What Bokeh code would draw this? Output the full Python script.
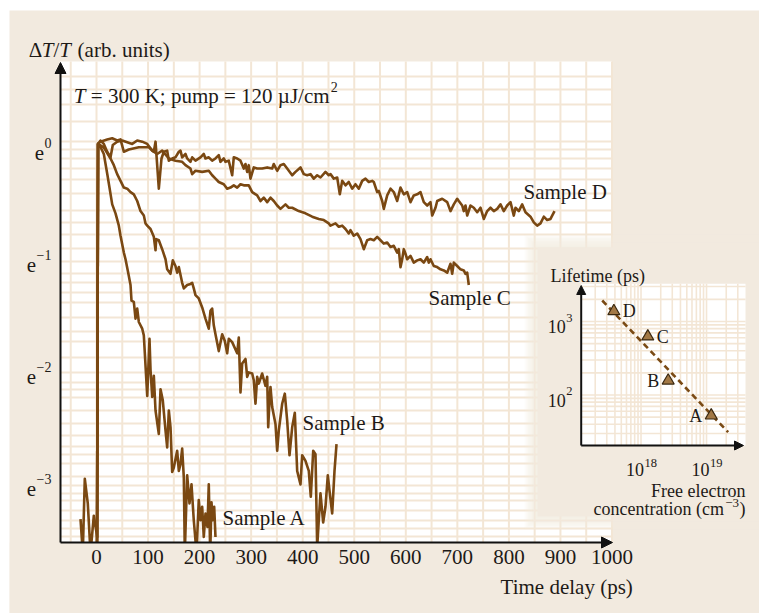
import numpy as np
from bokeh.plotting import figure
from bokeh.models import (Range1d, Label, Arrow, NormalHead, Spacer, ColumnDataSource)
from bokeh.layouts import column, row
from bokeh.embed import file_html
from bokeh.resources import INLINE
from bokeh.core.properties import value

# ---------------- data (ln of dT/T vs time delay in ps) ----------------
time_A = [-31.0, -26.6, -22.7, -16.9, -11.6, -5.2, 1.4, 2.9, 7.0, 14.2, 21.3, 30.5, 36.9, 43.3, 46.6,
          53.0, 56.3, 61.5, 66.0, 67.9, 72.4, 75.7, 79.0, 82.1, 88.7, 91.8, 98.4, 102.8, 104.8, 108.1,
          111.2, 114.5, 120.9, 124.2, 128.6, 133.9, 137.1, 140.3, 143.6, 146.8, 150.0, 156.5, 159.7,
          162.9, 166.2, 169.4, 171.3, 175.9, 180.4, 184.3, 188.7, 194.0, 198.4, 201.7, 205.0, 208.1,
          211.4, 215.3, 217.8, 220.6, 223.1, 225.6, 228.3, 230.8]
ln_A = [-3.30, -3.60, -2.94, -3.16, -3.60, -3.27, -3.46, 0.05, 0.03, -0.04, -0.23, -0.49, -0.57, -0.68,
        -0.77, -0.92, -0.98, -1.10, -1.21, -1.35, -1.36, -1.51, -1.42, -1.54, -1.60, -1.66, -2.20, -1.69,
        -1.97, -2.21, -2.02, -2.33, -2.54, -2.14, -2.24, -2.51, -2.66, -2.33, -2.48, -2.88, -2.84, -2.69,
        -2.87, -2.81, -2.67, -2.93, -3.60, -2.91, -3.16, -2.99, -3.31, -3.60, -3.13, -3.31, -3.19, -3.46,
        -3.25, -3.37, -2.99, -3.60, -3.15, -3.31, -3.19, -3.46]

time_B = [1.0, 3.0, 14.0, 27.2, 33.6, 40.1, 46.6, 53.0, 59.6, 66.0, 72.4, 79.0, 85.4, 91.8, 95.1, 98.4,
          104.8, 111.2, 114.5, 115.8, 120.9, 127.4, 133.9, 137.1, 143.5, 148.0, 153.2, 156.5, 159.7,
          166.2, 169.4, 175.9, 182.3, 185.6, 188.7, 192.0, 198.4, 205.0, 211.4, 217.8, 221.1, 224.4,
          227.5, 230.8, 237.2, 243.8, 248.9, 253.5, 256.6, 263.2, 272.9, 276.0, 279.3, 282.6, 289.0,
          292.3, 295.4, 302.0, 305.1, 308.4, 311.7, 314.8, 321.4, 327.8, 331.1, 333.1, 335.6, 337.5,
          340.8, 347.2, 350.5, 353.6, 360.2, 365.3, 369.9, 374.4, 379.6, 384.7, 389.3, 395.7, 399.0,
          405.4, 411.8, 415.7, 420.4, 424.8, 428.1, 431.2, 434.5, 439.7, 444.2, 448.7, 452.6, 457.2,
          461.7, 465.6]
ln_B = [-3.60, 0.05, 0.02, -0.08, -0.14, -0.22, -0.28, -0.34, -0.35, -0.38, -0.40, -0.46, -0.55, -0.59,
        -0.66, -0.68, -0.71, -0.78, -0.90, -0.80, -0.81, -0.89, -0.98, -1.07, -1.11, -0.99, -1.04, -1.10,
        -1.05, -1.19, -1.24, -1.21, -1.20, -1.19, -1.24, -1.30, -1.33, -1.41, -1.51, -1.60, -1.44, -1.42,
        -1.57, -1.65, -1.80, -1.65, -1.71, -1.82, -1.69, -1.72, -1.82, -1.68, -2.17, -1.91, -1.87, -2.03,
        -1.99, -2.00, -2.06, -2.27, -2.03, -2.09, -2.00, -2.11, -2.03, -2.48, -2.24, -2.12, -2.30, -2.45,
        -2.69, -2.51, -2.27, -2.18, -2.42, -2.73, -2.48, -2.35, -2.87, -2.99, -2.73, -2.78, -2.87, -3.10,
        -2.69, -2.72, -3.55, -3.31, -3.07, -3.33, -3.19, -2.91, -3.07, -3.25, -2.87, -2.63]

time_C = [1.0, 3.0, 7.8, 14.2, 20.7, 27.2, 31.6, 40.1, 49.9, 69.3, 79.0, 88.7, 98.4, 108.0, 117.7,
          127.4, 140.3, 153.2, 166.2, 172.6, 182.3, 185.6, 192.0, 205.0, 217.8, 224.4, 230.8, 237.2,
          246.9, 253.5, 259.9, 266.3, 272.9, 279.3, 285.7, 295.4, 302.0, 311.7, 318.1, 324.5, 331.1,
          337.5, 343.9, 350.5, 356.9, 366.6, 373.0, 379.6, 392.4, 405.4, 418.4, 431.2, 440.9, 450.6,
          453.9, 463.6, 470.0, 476.6, 483.0, 489.4, 492.7, 499.1, 505.7, 512.1, 518.5, 525.1, 531.5,
          537.9, 544.5, 550.9, 557.3, 563.9, 570.3, 576.7, 583.3, 586.4, 589.7, 593.0, 596.1, 599.4,
          602.7, 609.1, 615.5, 622.1, 628.5, 634.9, 641.5, 644.6, 647.9, 654.3, 660.9, 667.3, 673.7,
          680.3, 686.7, 690.0, 693.1, 699.7, 706.1, 712.5, 715.8, 719.1, 722.2]
ln_C = [-3.60, 0.05, 0.08, 0.05, -0.02, -0.07, 0.04, 0.07, 0.08, 0.05, 0.08, 0.07, 0.05, -0.01, -0.04,
        -0.01, -0.08, -0.10, -0.11, -0.14, -0.17, -0.22, -0.19, -0.20, -0.19, -0.23, -0.26, -0.29, -0.31,
        -0.35, -0.34, -0.32, -0.34, -0.31, -0.32, -0.32, -0.38, -0.41, -0.46, -0.43, -0.47, -0.43, -0.46,
        -0.50, -0.53, -0.49, -0.52, -0.52, -0.55, -0.57, -0.60, -0.62, -0.63, -0.66, -0.68, -0.66, -0.69,
        -0.68, -0.71, -0.75, -0.72, -0.77, -0.75, -0.80, -0.89, -0.81, -0.80, -0.81, -0.78, -0.81, -0.84,
        -0.83, -0.87, -0.86, -0.92, -0.89, -1.05, -0.98, -0.89, -0.93, -0.98, -0.95, -1.01, -0.99, -0.98,
        -1.01, -0.96, -1.01, -0.98, -1.04, -1.05, -1.07, -1.08, -1.10, -1.02, -1.11, -1.01, -1.04, -1.07,
        -1.08, -1.11, -1.10, -1.21]

time_D = [1.0, 3.0, 7.8, 20.7, 30.4, 40.1, 46.6, 53.0, 62.7, 82.1, 101.5, 111.2, 114.5, 120.9, 126.1,
          130.6, 137.1, 140.3, 146.8, 153.2, 159.7, 162.9, 166.2, 172.6, 175.9, 182.3, 185.6, 192.0,
          201.7, 208.1, 211.4, 217.8, 224.4, 230.8, 237.2, 240.5, 246.9, 250.2, 256.6, 263.2, 266.3,
          272.9, 279.3, 285.7, 289.0, 292.3, 295.4, 298.7, 305.1, 311.7, 321.4, 331.1, 340.8, 343.9,
          350.5, 356.9, 363.3, 369.9, 379.6, 386.0, 395.7, 402.1, 408.7, 415.1, 421.5, 428.1, 434.5,
          444.2, 450.6,
          453.9, 460.3, 466.9, 472.0, 476.6, 483.0, 489.4, 496.0, 502.4, 508.8, 515.4, 521.8, 528.2,
          534.8, 537.9, 544.5, 547.6, 554.2, 557.3, 563.9, 570.3, 576.7, 583.3, 589.7, 596.1, 602.7,
          609.1, 615.5, 622.1, 628.5, 634.9, 641.5, 647.9, 651.2, 657.6, 660.9, 670.6, 680.3, 686.7,
          693.1, 699.7, 702.8, 709.4, 712.5, 715.8, 719.1, 725.5, 731.9, 738.5, 744.9, 751.3, 757.9,
          764.3, 770.7, 777.3, 783.7, 790.1, 796.7, 803.1, 809.5, 812.8, 819.2, 825.8, 832.2, 841.9,
          848.3, 854.9, 861.3, 867.7, 874.3, 880.7, 888.5]
ln_D = [-3.60, 0.05, 0.07, 0.09, 0.10, 0.08, 0.09, -0.02, 0.00, 0.02, 0.02, -0.02, 0.07, -0.35, -0.08,
        -0.02, -0.01, -0.10, -0.08, -0.07, -0.02, -0.01, -0.07, -0.04, -0.08, -0.11, -0.07, -0.10, -0.07,
        -0.04, -0.08, -0.07, -0.10, -0.08, -0.05, -0.11, -0.08, -0.11, -0.10, -0.23, -0.07, -0.08, -0.10,
        -0.17, -0.13, -0.20, -0.14, -0.26, -0.16, -0.17, -0.17, -0.16, -0.17, -0.13, -0.19, -0.14, -0.13,
        -0.17, -0.23, -0.20, -0.16, -0.22, -0.23, -0.22, -0.26, -0.23, -0.25, -0.20, -0.23,
        -0.22, -0.26, -0.25, -0.40, -0.28, -0.32, -0.29, -0.35, -0.31, -0.35, -0.28, -0.26, -0.29, -0.28,
        -0.29, -0.38, -0.37, -0.46, -0.53, -0.41, -0.35, -0.38, -0.46, -0.34, -0.40, -0.38, -0.47, -0.41,
        -0.40, -0.38, -0.47, -0.50, -0.47, -0.59, -0.52, -0.46, -0.44, -0.47, -0.55, -0.49, -0.44, -0.46,
        -0.50, -0.55, -0.50, -0.59, -0.50, -0.52, -0.56, -0.52, -0.62, -0.55, -0.52, -0.55, -0.53, -0.49,
        -0.55, -0.50, -0.47, -0.59, -0.52, -0.55, -0.49, -0.56, -0.60, -0.65, -0.68, -0.66, -0.60, -0.63,
        -0.62, -0.55]

x_ticks = [0, 100, 200, 300, 400, 500, 600, 700, 800, 900, 1000]
x_tick_labels = [str(t) for t in x_ticks]
y_ticks = [0, -1, -2, -3]
y_tick_base = ["e", "e", "e", "e"]
y_tick_exp = ["0", "\u22121", "\u22122", "\u22123"]
sample_labels = ["Sample A", "Sample B", "Sample C", "Sample D"]

# inset: lifetime vs free electron concentration
inset_names = ["A", "B", "C", "D"]
conc = [1.18e19, 2.6e18, 1.27e18, 3.85e17]        # cm^-3
lifetime = [52.6, 157.0, 625.0, 1380.0]           # ps
fit_conc = [2.56e17, 2.14e19]
fit_life = [1930.0, 31.2]
inset_xticks = [1e18, 1e19]
inset_xexp = ["18", "19"]
inset_yticks = [100, 1000]
inset_yexp = ["2", "3"]

# ---------------- style / layout ----------------
BEIGE = "#f2eadf"
GRID = "#f3e6d5"
BROWN = "#7a4812"
TXT = "#1e1a17"
AX = "#111111"
FONT = "Liberation Serif"
PXX = 0.5155   # px per ps
PXY = 112.0    # px per e-fold
OX, OY = 96.0, 149.0   # page pixel of (t=0, ln=0)


def tx(px):
    return (px - OX) / PXX


def ty(py):
    return (OY - py) / PXY


def tw(s, size):
    """approximate advance width of a Times-metric string"""
    w = {"\u2212": 0.564}
    return sum(w.get(c, 0.5) for c in s) * size


XL, XR = tx(9), tx(759)
YT, YB = ty(10), ty(613)
X0, X1 = tx(60), 1000.0     # main plot area (time)
Y0, Y1 = ty(542), ty(61)    # main plot area (ln)

p = figure(width=750, height=603, x_range=Range1d(XL, XR), y_range=Range1d(YB, YT),
           x_axis_type=None, y_axis_type=None, output_backend="svg", toolbar_location=None,
           title=None, min_border=0, min_border_left=0, min_border_right=0, min_border_top=0,
           min_border_bottom=0, background_fill_color=BEIGE, border_fill_color=BEIGE,
           outline_line_color=None)

# main plot area + grid
p.quad(left=[X0], right=[X1], bottom=[Y0], top=[Y1], fill_color="white", line_color=None)
xgrid_vals = list(range(-50, 1001, 50))
ygrid_vals = [0.652, 0.536, 0.402, 0.25, 0.071, 0.0, -0.080, -0.170, -0.268, -0.393, -0.545, -0.652,
              -0.759, -0.884, -1.0, -1.107, -1.188, -1.277, -1.366, -1.5, -1.625, -1.714, -1.857,
              -1.991, -2.080, -2.143, -2.214, -2.330, -2.446, -2.554, -2.652, -2.723, -2.804, -2.920,
              -3.0, -3.071, -3.134, -3.223, -3.313, -3.384, -3.455]
p.segment(x0=xgrid_vals, y0=[Y0] * len(xgrid_vals), x1=xgrid_vals, y1=[Y1] * len(xgrid_vals),
          line_color=GRID, line_width=2)
p.segment(x0=[X0] * len(ygrid_vals), y0=ygrid_vals, x1=[X1] * len(ygrid_vals), y1=ygrid_vals,
          line_color=GRID, line_width=2)

# curves
for t, v in ((time_A, ln_A), (time_B, ln_B), (time_C, ln_C), (time_D, ln_D)):
    p.line(t, v, line_color=BROWN, line_width=2.6, line_join="round")
# background band below the plot area hides the parts of the traces below the axis
p.quad(left=[XL], right=[XR], bottom=[YB], top=[Y0], fill_color=BEIGE, line_color=None)

# axes
head = dict(fill_color=AX, line_color=AX)
p.add_layout(Arrow(end=NormalHead(size=11, **head), x_start=X0, y_start=Y0, x_end=X0, y_end=ty(62),
                   line_width=2, line_color=AX))
p.add_layout(Arrow(end=NormalHead(size=11, **head), x_start=X0, y_start=Y0, x_end=1001, y_end=Y0,
                   line_width=2, line_color=AX))
p.text(x=x_ticks, y=[Y0] * len(x_ticks), text=x_tick_labels, y_offset=7, text_align="center",
       text_baseline="top", text_font=value(FONT), text_font_size=value("21px"), text_color=TXT)
# y tick labels: "e" with a raised exponent
p.text(x=[X0] * len(y_ticks), y=y_ticks, text=y_tick_base,
       x_offset=[-(9.5 + tw(s, 14)) for s in y_tick_exp], y_offset=3, text_align="right",
       text_baseline="alphabetic", text_font=value(FONT), text_font_size=value("21px"), text_color=TXT)
p.text(x=[X0] * len(y_ticks), y=y_ticks, text=y_tick_exp, x_offset=-9, y_offset=-6.5,
       text_align="right", text_baseline="alphabetic", text_font=value(FONT),
       text_font_size=value("14px"), text_color=TXT)

# sample labels
lab_x = [244.4, 399.6, 644.0, 828.3]
lab_y = [-3.286, -2.4375, -1.330, -0.381]
p.text(x=lab_x, y=lab_y, text=sample_labels, text_font=value(FONT), text_font_size=value("21px"),
       text_color=TXT, text_align="left", text_baseline="middle")


def lab(x, y, txt, size="21px", ital=False, align="left", xo=0.0):
    p.add_layout(Label(x=x, y=y, x_offset=xo, text=txt, text_font=FONT, text_font_size=size,
                       text_color=TXT, text_font_style="italic" if ital else "normal",
                       text_baseline="alphabetic", text_align=align))


# y-axis title
ax_, ay_ = tx(28.3), ty(49.3)
lab(ax_, ay_, "\u0394")
lab(ax_, ay_, "T", ital=True, xo=12.9)
lab(ax_, ay_, "/", xo=24.6)
lab(ax_, ay_, "T", ital=True, xo=30.5)
lab(ax_, ay_, "(arb. units)", xo=48.8)
# condition text
cx_, cy_ = tx(73.3), ty(95)
lab(cx_, cy_, "T", ital=True)
lab(cx_, cy_, "= 300 K; pump = 120 \u00b5J/cm", xo=17.0)
lab(cx_, ty(86.5), "2", size="14px", xo=257.0)
# x-axis title
lab(tx(632.3), ty(586.7), "Time delay (ps)", align="right")

# ---------------- inset ----------------
PL, PT, PB = tx(537), ty(247), ty(516)
for k in range(8, 0, -1):
    d = 1.6 * k
    p.quad(left=[PL - d / PXX], right=[XR + 5], top=[PT + d / PXY], bottom=[PB - d / PXY],
           fill_color=BEIGE, fill_alpha=0.16, line_color=None)
p.quad(left=[PL], right=[XR + 5], top=[PT], bottom=[PB], fill_color=BEIGE, line_color=None)

lx0, lx1 = 17.087, 19.595   # log10 range of concentration axis
ly0, ly1 = 1.313, 3.513     # log10 range of lifetime axis
ix0, ix1 = tx(580.7), tx(745)
iy0, iy1 = ty(445), ty(283.3)
ins = p.subplot(x_source=Range1d(lx0, lx1), y_source=Range1d(ly0, ly1),
                x_target=Range1d(ix0, ix1), y_target=Range1d(iy0, iy1))

ins.quad(left=[lx0], right=[lx1], bottom=[ly0], top=[ly1], fill_color="white", line_color=None)
gx = [np.log10(k * 10.0 ** n) for n in (17, 18, 19) for k in range(1, 10)]
gx = [g for g in gx if lx0 < g < lx1]
gy = [np.log10(k * 10.0 ** n) for n in (1, 2, 3) for k in range(1, 10)]
gy = [g for g in gy if ly0 < g < ly1]
ins.segment(x0=gx, y0=[ly0] * len(gx), x1=gx, y1=[ly1] * len(gx), line_color=GRID, line_width=1.6)
ins.segment(x0=[lx0] * len(gy), y0=gy, x1=[lx1] * len(gy), y1=gy, line_color=GRID, line_width=1.6)

ins.line(np.log10(fit_conc), np.log10(fit_life), line_color="#7a4a14", line_width=2.6,
         line_dash="6 4")
src = ColumnDataSource(dict(x=np.log10(conc), y=np.log10(lifetime), name=inset_names,
                            xo=[-9, -9, 9, 9], al=["right", "right", "left", "left"]))
ins.scatter("x", "y", source=src, marker="triangle", size=12, fill_color="#a27845",
            line_color="#3a2810", line_width=1.2)
ins.text("x", "y", text="name", source=src, x_offset="xo", text_align="al", text_baseline="middle",
         text_font=value(FONT), text_font_size=value("18px"), text_color=TXT)
tfont = dict(text_font=value(FONT), text_color=TXT)
ins.text(x=np.log10(inset_xticks), y=[ly0] * 2, text=["10", "10"], x_offset=-15, y_offset=24,
         text_align="left", text_baseline="alphabetic", text_font_size=value("18px"), **tfont)
ins.text(x=np.log10(inset_xticks), y=[ly0] * 2, text=inset_xexp, x_offset=3.5, y_offset=17,
         text_align="left", text_baseline="alphabetic", text_font_size=value("12.5px"), **tfont)
ins.text(x=[lx0] * 2, y=np.log10(inset_yticks), text=["10", "10"], x_offset=-15.5, y_offset=5,
         text_align="right", text_baseline="alphabetic", text_font_size=value("18px"), **tfont)
ins.text(x=[lx0] * 2, y=np.log10(inset_yticks), text=inset_yexp, x_offset=-15, y_offset=-4,
         text_align="left", text_baseline="alphabetic", text_font_size=value("12.5px"), **tfont)

p.add_layout(Arrow(end=NormalHead(size=9, **head), x_start=ix0, y_start=iy0, x_end=tx(743),
                   y_end=iy0, line_width=2, line_color=AX))
p.add_layout(Arrow(end=NormalHead(size=9, **head), x_start=ix0, y_start=iy0, x_end=ix0,
                   y_end=ty(285), line_width=2, line_color=AX))

lab(tx(550), ty(275), "Lifetime (ps)", size="18px")
lab(tx(745), ty(490), "Free electron", size="18px", align="right")
lab(tx(745), ty(508.3), ")", size="18px", align="right")
lab(tx(745), ty(502), "\u22123", size="13px", align="right", xo=-6.5)
lab(tx(745), ty(508.3), "concentration (cm", size="18px", align="right", xo=-21.5)

layout = column(Spacer(width=759, height=10), row(Spacer(width=9, height=603), p))
open("out.html", "w").write(file_html(layout, INLINE))
